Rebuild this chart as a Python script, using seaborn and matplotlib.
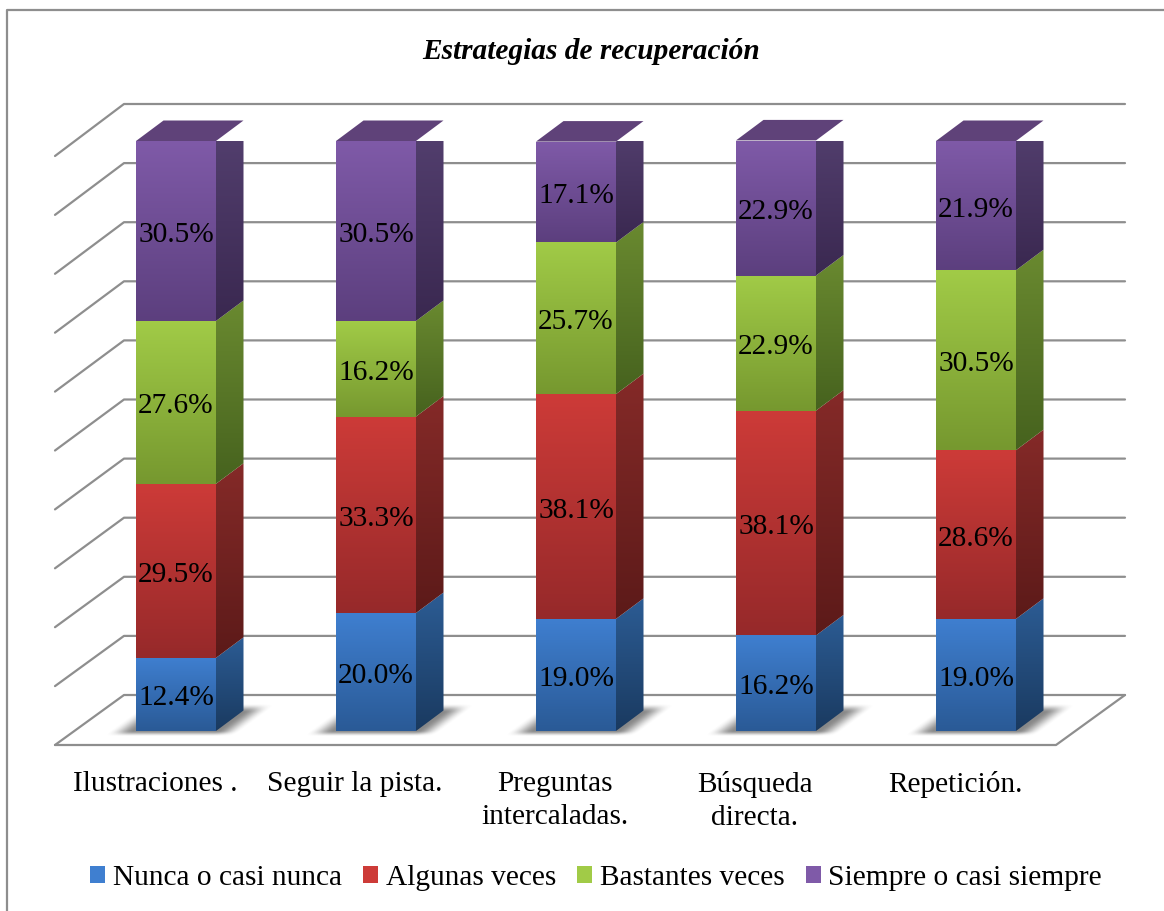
import numpy as np
import seaborn as sns
import matplotlib.pyplot as plt
from matplotlib.lines import Line2D
from matplotlib.patches import Patch, Polygon
from matplotlib.colors import LinearSegmentedColormap

sns.set_theme(style="white")
plt.rcParams['font.family'] = ['Liberation Serif', 'DejaVu Serif']

# Data
categories = ["Ilustraciones .", "Seguir la pista.", "Preguntas\nintercaladas.",
              "Búsqueda\ndirecta.", "Repetición."]
series_names = ["Nunca o casi nunca", "Algunas veces", "Bastantes veces", "Siempre o casi siempre"]
nunca = [12.4, 20.0, 19.0, 16.2, 19.0]
algunas = [29.5, 33.3, 38.1, 38.1, 28.6]
bastantes = [27.6, 16.2, 25.7, 22.9, 30.5]
siempre = [30.5, 30.5, 17.1, 22.9, 21.9]
title = "Estrategias de recuperación"

# front top, front bottom, side top, side bottom
shades = [("#3f7fd0", "#2a5a96", "#2c5c94", "#1a3a60"),
          ("#cd3b38", "#96292a", "#852a28", "#5c1a19"),
          ("#a1cb47", "#76982f", "#6a8a30", "#46621e"),
          ("#7f5aa8", "#5c3f7e", "#544070", "#3a2850")]
top_color = "#5f4279"
gray = "#8e8e8e"
fs = 21.2

W, H = 1164, 911
fig = plt.figure(figsize=(W / 100, H / 100), dpi=100)
# axes box is the front plane of the bars: 200 px per category, 5.9 px per percent
ax = fig.add_axes([76 / W, 1 - 731 / H, 1000 / W, 590 / H])
xpx, ypx = 1 / 200, 100 / 590


def gradient(verts, c1, c2, zorder):
    # fill a polygon with a vertical gradient
    v = np.array(verts)
    cmap = LinearSegmentedColormap.from_list("g", [c1, c2])
    im = ax.imshow(np.linspace(0, 1, 256)[:, None], cmap=cmap, aspect="auto", zorder=zorder,
                   extent=(v[:, 0].min(), v[:, 0].max(), v[:, 1].min(), v[:, 1].max()),
                   origin="upper", clip_on=True)
    poly = Polygon(verts, closed=True, transform=ax.transData)
    im.set_clip_path(poly)


def ramp(a):
    a = np.clip(a, 0, 1)
    return a * a * (3 - 2 * a)


# stacked front faces
values = [nunca, algunas, bastantes, siempre]
bottoms = np.zeros(len(categories))
labels_flat = [c.replace("\n", " ") for c in categories]
bar_w = 80 * xpx
depth_x, depth_y = 27.5 * xpx, 20.5 * ypx
for vals, shade in zip(values, shades):
    sns.barplot(x=labels_flat, y=vals, bottom=bottoms, color=shade[0], saturation=1,
                width=bar_w, linewidth=0, ax=ax, zorder=3)
    for i, v in enumerate(vals):
        l, r = i - bar_w / 2, i + bar_w / 2
        b, t = bottoms[i], bottoms[i] + v
        gradient([(l, b), (r, b), (r, t), (l, t)], shade[0], shade[1], 4)
        gradient([(r, b), (r + depth_x, b + depth_y), (r + depth_x, t + depth_y), (r, t)],
                 shade[2], shade[3], 4)
        ax.text(i, b + v / 2 - 4 * ypx, f"{v:.1f}%", ha="center", va="center", fontsize=fs,
                color="black", zorder=6)
    bottoms = bottoms + np.array(vals)

# top caps
for i, total in enumerate(bottoms):
    l, r = i - bar_w / 2, i + bar_w / 2
    ax.add_patch(Polygon([(l, total), (r, total), (r + depth_x, total + depth_y),
                          (l + depth_x, total + depth_y)], closed=True, fc=top_color, ec="none",
                         zorder=4, clip_on=False))

# soft floor shadows, in pixels measured from the bar's lower left corner
gx, gy = np.meshgrid(np.arange(-40, 140), np.arange(30, -8, -1))
shadow = (ramp((gy + 5) / 6) * ramp((28 - gy) / 9)
          * ramp((gx + 28 - 1.35 * gy) / 26) * ramp((104 + 1.35 * gy - gx) / 24)) * 0.6
shadow_img = np.zeros(shadow.shape + (4,))
shadow_img[..., :3] = 0.22
shadow_img[..., 3] = shadow
for i in range(len(categories)):
    l = i - bar_w / 2
    ax.imshow(shadow_img, aspect="auto", zorder=2, clip_on=False, origin="upper",
              extent=(l - 40 * xpx, l + 140 * xpx, -8 * ypx, 30 * ypx))

# back wall, side wall and floor
wall_left, wall_right = (124 - 76) * xpx - 0.5, (1125 - 76) * xpx - 0.5
front_left, front_right = (55 - 76) * xpx - 0.5, (1056 - 76) * xpx - 0.5
back_y0, front_y0 = -(695 - 731) * ypx, -(745 - 731) * ypx
line_kw = dict(color=gray, lw=1.6, solid_capstyle="round", clip_on=False, zorder=1)
for tick in range(0, 101, 10):
    yb = back_y0 + tick * 591 / 590
    yf = front_y0 + tick * 589 / 590
    ax.plot([front_left, wall_left, wall_right], [yf, yb, yb], **line_kw)
ax.plot([front_left, front_right, wall_right], [front_y0, front_y0, back_y0], **line_kw)

ax.set_xlim(-0.5, 4.5)
ax.set_ylim(0, 100)
ax.set_yticks([])
ax.set_xticks(np.arange(len(categories)) - 21 * xpx)
ax.set_xticklabels(categories, fontsize=fs, color="black", linespacing=1.32)
ax.tick_params(axis="x", length=0, pad=29)
ax.patch.set_alpha(0)
sns.despine(ax=ax, left=True, bottom=True)

ax.set_title(title, fontsize=fs, fontweight="bold", fontstyle="italic", color="black",
             x=(591 - 76) / 1000, pad=59)

# outer frame, right and bottom edges are cut off in the picture
fig.add_artist(Line2D([7 / W, 7 / W, 1], [0, 1 - 10 / H, 1 - 10 / H], color=gray, lw=1.6))

handles = [Patch(fc=(s[0]), ec="none") for s in shades]
leg = fig.legend(handles, series_names, loc="center", bbox_to_anchor=(596 / W, 1 - 878 / H), ncols=4,
                 frameon=False, fontsize=fs, handlelength=0.52, handleheight=0.52,
                 handletextpad=0.25, columnspacing=0.72, borderpad=0, labelcolor="black")

fig.savefig("out.png", dpi=100)
